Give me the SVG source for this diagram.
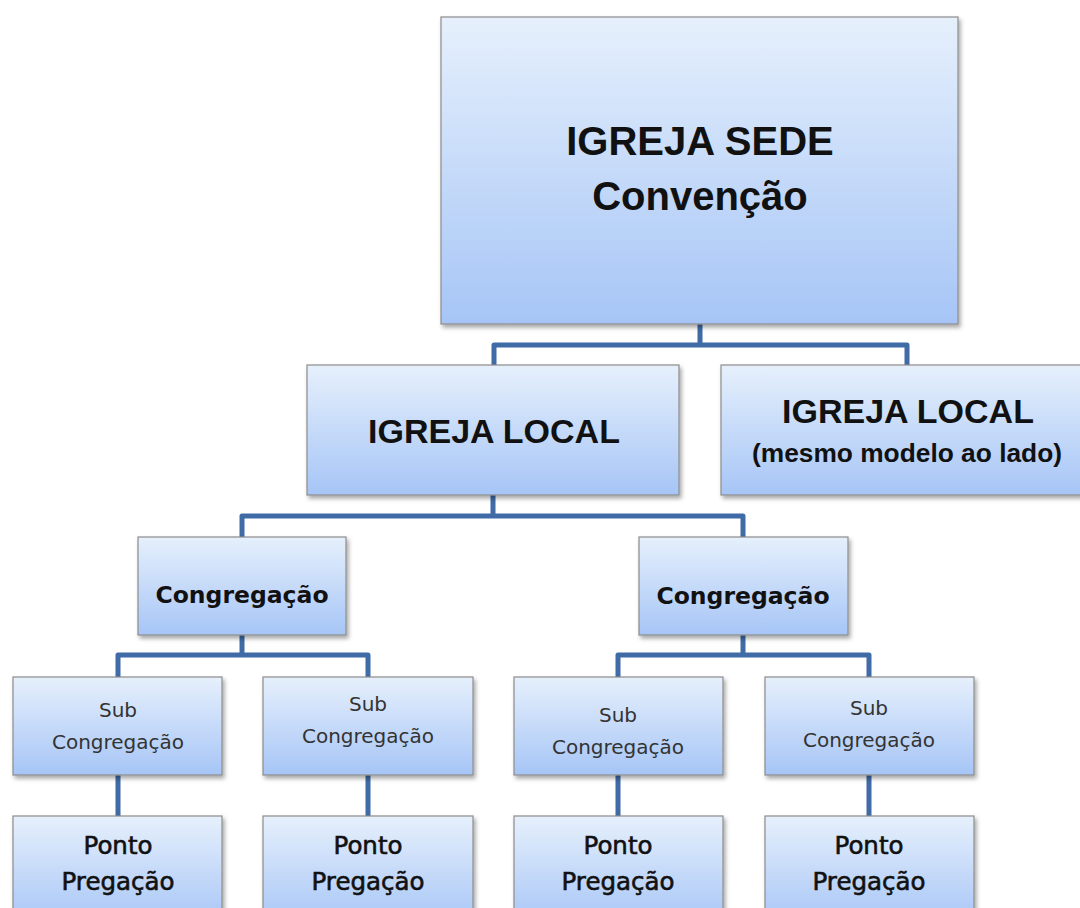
<svg xmlns="http://www.w3.org/2000/svg" width="1080" height="908" viewBox="0 0 1080 908">
<defs>
<linearGradient id="g" x1="0" y1="0" x2="0" y2="1">
<stop offset="0" stop-color="#e6f0fc"/>
<stop offset="1" stop-color="#a6c5f6"/>
</linearGradient>
<filter id="sh" x="-10%" y="-10%" width="120%" height="130%">
<feDropShadow dx="2" dy="3" stdDeviation="2" flood-color="#000" flood-opacity="0.35"/>
</filter>
<style>
.box{fill:url(#g);stroke:#8c8c8c;stroke-width:1.2;filter:url(#sh)}
.conn{fill:none;stroke:#3f6ba6;stroke-width:5;stroke-linejoin:round}
.t1{font-family:"Liberation Sans",Arial,sans-serif;font-weight:bold;fill:#111;text-anchor:middle}
.t2{font-family:"DejaVu Sans",Verdana,sans-serif;font-weight:bold;font-size:23.5px;fill:#111;text-anchor:middle}
.t4{font-family:"DejaVu Sans",Verdana,sans-serif;font-size:24.5px;fill:#111;stroke:#111;stroke-width:0.6;text-anchor:middle}
.t3{font-family:"DejaVu Sans",Verdana,sans-serif;font-size:20px;fill:#333;text-anchor:middle}
</style>
</defs>
<rect width="1080" height="908" fill="#fff"/>
<g id="connectors">
<path class="conn" d="M700 324 V345 M494 365 V345 H907 V365"/>
<path class="conn" d="M493 495 V516 M242 537 V516 H743 V537"/>
<path class="conn" d="M242 635 V655 M118 677 V655 H368 V677"/>
<path class="conn" d="M743 635 V655 M618 677 V655 H869 V677"/>
<path class="conn" d="M118 775 V816 M368 775 V816 M618 775 V816 M869 775 V816"/>
</g>
<g id="sede">
<rect class="box" x="441" y="17" width="517" height="307"/>
<text class="t1" x="700" y="155" font-size="40">IGREJA SEDE</text>
<text class="t1" x="700" y="210" font-size="40">Convenção</text>
</g>
<g id="local1">
<rect class="box" x="307" y="365" width="372" height="130"/>
<text class="t1" x="494" y="443" font-size="34">IGREJA LOCAL</text>
</g>
<g id="local2">
<rect class="box" x="721" y="365" width="370" height="130"/>
<text class="t1" x="908" y="423" font-size="34">IGREJA LOCAL</text>
<text class="t1" x="907" y="462" font-size="25" textLength="310" lengthAdjust="spacingAndGlyphs">(mesmo modelo ao lado)</text>
</g>
<g id="cong1">
<rect class="box" x="138" y="537" width="208" height="98"/>
<text class="t2" x="242" y="603">Congregação</text>
</g>
<g id="cong2">
<rect class="box" x="639" y="537" width="209" height="98"/>
<text class="t2" x="743" y="604">Congregação</text>
</g>
<g id="sub1">
<rect class="box" x="13" y="677" width="209" height="98"/>
<text class="t3" x="118" y="717">Sub</text>
<text class="t3" x="118" y="749">Congregação</text>
</g>
<g id="sub2">
<rect class="box" x="263" y="677" width="210" height="98"/>
<text class="t3" x="368" y="711">Sub</text>
<text class="t3" x="368" y="743">Congregação</text>
</g>
<g id="sub3">
<rect class="box" x="514" y="677" width="209" height="98"/>
<text class="t3" x="618" y="722">Sub</text>
<text class="t3" x="618" y="754">Congregação</text>
</g>
<g id="sub4">
<rect class="box" x="765" y="677" width="209" height="98"/>
<text class="t3" x="869" y="715">Sub</text>
<text class="t3" x="869" y="747">Congregação</text>
</g>
<g id="ponto1">
<rect class="box" x="13" y="816" width="209" height="110"/>
<text class="t4" x="118" y="854">Ponto</text>
<text class="t4" x="118" y="890">Pregação</text>
</g>
<g id="ponto2">
<rect class="box" x="263" y="816" width="210" height="110"/>
<text class="t4" x="368" y="854">Ponto</text>
<text class="t4" x="368" y="890">Pregação</text>
</g>
<g id="ponto3">
<rect class="box" x="514" y="816" width="209" height="110"/>
<text class="t4" x="618" y="854">Ponto</text>
<text class="t4" x="618" y="890">Pregação</text>
</g>
<g id="ponto4">
<rect class="box" x="765" y="816" width="209" height="110"/>
<text class="t4" x="869" y="854">Ponto</text>
<text class="t4" x="869" y="890">Pregação</text>
</g>
</svg>
